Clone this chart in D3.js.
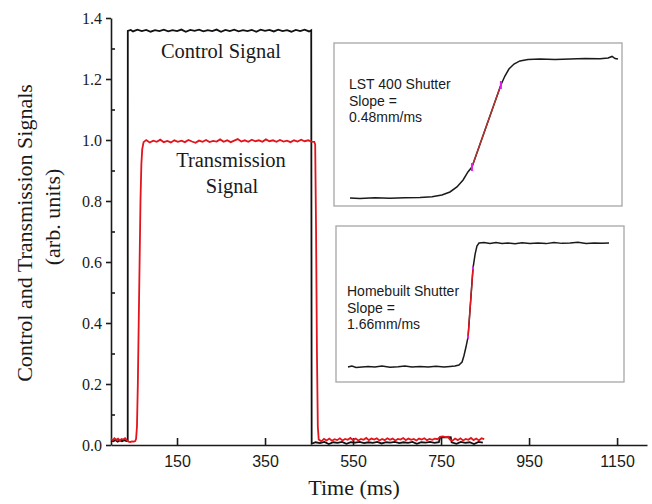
<!DOCTYPE html>
<html>
<head>
<meta charset="utf-8">
<script src="https://cdn.jsdelivr.net/npm/d3@7"></script>
<style>
  body { margin: 0; background: #ffffff; }
  svg { display: block; }
</style>
</head>
<body>
<div id="chart"></div>
<script>
// Main traces: [time (ms), signal (arb. units)]
const controlSignal = [
  [0, 0.015], [5, 0.012], [10, 0.016], [15, 0.011], [20, 0.015], [25, 0.012], [30, 0.016], [35, 0.013], [38, 0.014],
  [38.2, 1.358], [45, 1.361], [50, 1.356], [60, 1.362], [70, 1.357], [80, 1.361], [90, 1.355], [100, 1.36],
  [110, 1.357], [120, 1.362], [130, 1.356], [140, 1.36], [150, 1.357], [160, 1.362], [170, 1.355], [180, 1.361],
  [190, 1.358], [200, 1.362], [210, 1.356], [220, 1.36], [230, 1.357], [240, 1.362], [250, 1.355], [260, 1.361],
  [270, 1.357], [280, 1.362], [290, 1.356], [300, 1.36], [310, 1.357], [320, 1.361], [330, 1.355], [340, 1.362],
  [350, 1.358], [360, 1.361], [370, 1.356], [380, 1.362], [390, 1.357], [400, 1.36], [410, 1.355], [420, 1.361],
  [430, 1.357], [440, 1.362], [450, 1.356], [455, 1.36],
  [456, 0.004], [465, 0.009], [475, 0.006], [485, 0.01], [495, 0.003], [505, 0.009], [515, 0.007], [525, 0.01],
  [535, 0.004], [545, 0.009], [555, 0.008], [565, 0.01], [575, 0.006], [585, 0.009], [595, 0.007], [605, 0.01],
  [615, 0.005], [625, 0.009], [635, 0.008], [645, 0.01], [655, 0.006], [665, 0.009], [675, 0.007], [685, 0.01],
  [695, 0.004], [705, 0.009], [715, 0.008], [725, 0.01], [735, 0.007], [745, 0.009], [748, 0.026], [760, 0.025],
  [772, 0.026], [774, 0.009], [785, 0.004], [795, 0.01], [805, 0.007], [815, 0.009], [825, 0.003], [835, 0.01],
  [845, 0.008]
];

const transmissionSignal = [
  [0, 0.02], [4, 0.016], [8, 0.022], [12, 0.017], [16, 0.021], [20, 0.015], [24, 0.02], [28, 0.018], [32, 0.022],
  [36, 0.016], [40, 0.011], [44, 0.01], [48, 0.012], [52, 0.011], [55, 0.013], [57, 0.02], [59, 0.06], [61, 0.2],
  [63, 0.4], [65, 0.6], [67, 0.8], [69, 0.92], [71, 0.97], [74, 0.993],
  [80, 1.0], [88, 0.992], [96, 0.998], [104, 0.994], [112, 1.001], [120, 0.993], [128, 0.997], [136, 0.992],
  [144, 0.999], [152, 0.994], [160, 0.998], [168, 0.993], [176, 1.0], [184, 0.995], [192, 0.991], [200, 0.998],
  [208, 0.994], [216, 1.0], [224, 0.993], [232, 0.997], [240, 0.995], [248, 1.002], [256, 0.994], [264, 0.999],
  [272, 0.993], [280, 0.998], [288, 1.003], [296, 0.995], [304, 0.999], [312, 0.994], [320, 1.001], [328, 0.996],
  [336, 0.999], [344, 0.994], [352, 1.002], [360, 0.996], [368, 0.999], [376, 0.994], [384, 1.0], [392, 0.995],
  [400, 0.998], [408, 0.993], [416, 0.999], [424, 0.995], [432, 1.001], [440, 0.996], [448, 0.999], [456, 0.995],
  [462, 0.994], [464, 0.985], [466, 0.7], [468, 0.3], [470, 0.06], [472, 0.018],
  [478, 0.012], [484, 0.02], [490, 0.015], [496, 0.021], [502, 0.014], [508, 0.019], [514, 0.016], [520, 0.022],
  [526, 0.015], [532, 0.02], [538, 0.017], [544, 0.023], [550, 0.016], [556, 0.021], [562, 0.015], [568, 0.02],
  [574, 0.017], [580, 0.023], [586, 0.016], [592, 0.021], [598, 0.018], [604, 0.022], [610, 0.015], [616, 0.02],
  [622, 0.016], [628, 0.022], [634, 0.017], [640, 0.021], [646, 0.015], [652, 0.02], [658, 0.018], [664, 0.023],
  [670, 0.016], [676, 0.021], [682, 0.017], [688, 0.02], [694, 0.015], [700, 0.021], [706, 0.018], [712, 0.022],
  [718, 0.016], [724, 0.02], [730, 0.017], [736, 0.021], [742, 0.019], [748, 0.027], [754, 0.028], [760, 0.026],
  [766, 0.027], [770, 0.018], [776, 0.014], [782, 0.021], [788, 0.016], [794, 0.022], [800, 0.015], [806, 0.02],
  [812, 0.017], [818, 0.023], [824, 0.016], [830, 0.021], [836, 0.015], [842, 0.022], [848, 0.019]
];

const xTicks = [150, 350, 550, 750, 950, 1150];
const yTicks = [0, 0.2, 0.4, 0.6, 0.8, 1.0, 1.2, 1.4];
const yMinorTicks = [0.1, 0.3, 0.5, 0.7, 0.9, 1.1, 1.3];

// Inset traces: [normalised time, normalised opening]
const lstCurve = [
  [0, 0], [0.037, -0.003], [0.093, 0.001], [0.149, -0.002], [0.205, 0.002], [0.261, 0.004], [0.306, 0.009],
  [0.343, 0.021], [0.373, 0.043], [0.399, 0.079], [0.422, 0.129], [0.44, 0.186], [0.455, 0.221], [0.563, 0.807],
  [0.578, 0.871], [0.593, 0.921], [0.612, 0.957], [0.634, 0.979], [0.664, 0.989], [0.709, 0.993], [0.765, 0.989],
  [0.821, 0.993], [0.877, 0.996], [0.933, 0.994], [0.963, 1.0], [0.978, 1.011], [0.989, 0.996], [1.0, 0.993]
];
const lstFit = [[0.455, 0.221], [0.563, 0.807]];
const lstLabel = ["LST 400 Shutter", "Slope =", "0.48mm/ms"];

const homeCurve = [
  [0, 0], [0.015, 0.008], [0.031, -0.004], [0.054, 0], [0.077, 0.004], [0.103, 0], [0.13, 0.008], [0.161, -0.002],
  [0.192, 0.002], [0.218, 0.008], [0.245, 0], [0.276, 0.004], [0.307, 0], [0.337, 0.006], [0.368, 0], [0.391, 0.004],
  [0.41, 0.008], [0.425, 0.016], [0.437, 0.04], [0.444, 0.089], [0.452, 0.161], [0.46, 0.242], [0.479, 0.798],
  [0.487, 0.911], [0.494, 0.976], [0.502, 1.0], [0.521, 1.004], [0.544, 0.996], [0.567, 1.004], [0.59, 0.996],
  [0.613, 1.0], [0.64, 0.994], [0.667, 1.002], [0.697, 0.996], [0.728, 1.0], [0.759, 0.995], [0.789, 1.003],
  [0.82, 0.997], [0.851, 1.0], [0.881, 1.006], [0.912, 0.996], [0.943, 1.0], [0.973, 0.997], [1.0, 1.0]
];
const homeFit = [[0.46, 0.242], [0.479, 0.798]];
const homeLabel = ["Homebuilt Shutter", "Slope =", "1.66mm/ms"];

const serif = "'Liberation Serif', 'Times New Roman', serif";
const sans = "'Liberation Sans', Arial, sans-serif";

function renderChart() {
  const width = 652;
  const height = 504;

  const svg = d3
    .select("#chart")
    .append("svg")
    .attr("width", width)
    .attr("height", height);

  const x = d3.scaleLinear().domain([0, 1218]).range([111, 647]);
  const y = d3.scaleLinear().domain([0, 1.4]).range([445, 18]);

  // Bottom axis, ticks pointing inward
  const xAxis = svg
    .append("g")
    .attr("transform", `translate(0,${y(0)})`)
    .call(
      d3
        .axisBottom(x)
        .tickValues(xTicks)
        .tickSizeInner(-7)
        .tickSizeOuter(0)
        .tickPadding(11)
        .tickFormat(d3.format("d"))
    );
  xAxis.selectAll("text").style("font-family", sans).style("font-size", "16px").attr("fill", "#1a1a1a");

  // Left axis, major ticks outward and minor ticks inward
  const yAxis = svg
    .append("g")
    .attr("transform", `translate(${x(0)},0)`)
    .call(
      d3.axisLeft(y).tickValues(yTicks).tickSize(5).tickSizeOuter(0).tickPadding(4).tickFormat(d3.format(".1f"))
    );
  yAxis.selectAll("text").style("font-family", serif).style("font-size", "16px").attr("fill", "#1a1a1a");

  svg
    .append("g")
    .attr("transform", `translate(${x(0)},0)`)
    .call(d3.axisLeft(y).tickValues(yMinorTicks).tickSize(-4).tickFormat(""))
    .call((g) => g.select(".domain").remove());

  svg.selectAll(".domain, .tick line").attr("stroke", "#1a1a1a").attr("stroke-width", 1.6);

  const line = d3
    .line()
    .x((d) => x(d[0]))
    .y((d) => y(d[1]));

  svg
    .append("path")
    .datum(controlSignal)
    .attr("fill", "none")
    .attr("stroke", "#111111")
    .attr("stroke-width", 1.8)
    .attr("d", line);

  svg
    .append("path")
    .datum(transmissionSignal)
    .attr("fill", "none")
    .attr("stroke", "#e3141c")
    .attr("stroke-width", 1.8)
    .attr("d", line);

  // Trace annotations
  svg
    .append("text")
    .attr("x", 221)
    .attr("y", 58)
    .attr("text-anchor", "middle")
    .style("font-family", serif)
    .style("font-size", "20.5px")
    .attr("fill", "#1a1a1a")
    .text("Control Signal");

  svg
    .append("text")
    .attr("x", 231)
    .attr("y", 167)
    .attr("text-anchor", "middle")
    .style("font-family", serif)
    .style("font-size", "20.5px")
    .attr("fill", "#1a1a1a")
    .text("Transmission");

  svg
    .append("text")
    .attr("x", 232)
    .attr("y", 193)
    .attr("text-anchor", "middle")
    .style("font-family", serif)
    .style("font-size", "20.5px")
    .attr("fill", "#1a1a1a")
    .text("Signal");

  // Axis titles
  svg
    .append("text")
    .attr("transform", "translate(32,233) rotate(-90)")
    .attr("text-anchor", "middle")
    .style("font-family", serif)
    .style("font-size", "22px")
    .attr("fill", "#1a1a1a")
    .text("Control and Transmission Signals");

  svg
    .append("text")
    .attr("transform", "translate(60,217) rotate(-90)")
    .attr("text-anchor", "middle")
    .style("font-family", serif)
    .style("font-size", "22px")
    .attr("fill", "#1a1a1a")
    .text("(arb. units)");

  svg
    .append("text")
    .attr("x", 354)
    .attr("y", 495)
    .attr("text-anchor", "middle")
    .style("font-family", serif)
    .style("font-size", "22px")
    .attr("fill", "#1a1a1a")
    .text("Time (ms)");

  renderInset(svg, {
    frame: [334, 43, 288, 163],
    xRange: [350, 618],
    yRange: [198, 58],
    curve: lstCurve,
    fit: lstFit,
    fitColor: "#b8322e",
    markSize: 4,
    label: lstLabel,
    labelX: 349,
    labelY: [89, 106, 122],
  });

  renderInset(svg, {
    frame: [336, 226, 288, 156],
    xRange: [348, 609],
    yRange: [367, 243],
    curve: homeCurve,
    fit: homeFit,
    fitColor: "#e3141c",
    markSize: 1.5,
    label: homeLabel,
    labelX: 347,
    labelY: [296, 313, 329],
  });
}

function renderInset(svg, opts) {
  const g = svg.append("g");
  const [fx, fy, fw, fh] = opts.frame;

  g.append("rect")
    .attr("x", fx)
    .attr("y", fy)
    .attr("width", fw)
    .attr("height", fh)
    .attr("fill", "#ffffff")
    .attr("stroke", "#a6a6a6")
    .attr("stroke-width", 1.3);

  const ix = d3.scaleLinear().domain([0, 1]).range(opts.xRange);
  const iy = d3.scaleLinear().domain([0, 1]).range(opts.yRange);

  const line = d3
    .line()
    .x((d) => ix(d[0]))
    .y((d) => iy(d[1]));

  g.append("path")
    .datum(opts.curve)
    .attr("fill", "none")
    .attr("stroke", "#1a1a1a")
    .attr("stroke-width", 1.5)
    .attr("d", line);

  g.append("path")
    .datum(opts.fit)
    .attr("fill", "none")
    .attr("stroke", opts.fitColor)
    .attr("stroke-width", 1.4)
    .attr("d", line);

  // Magenta end markers of the fitted range
  g.selectAll("line.mark")
    .data(opts.fit)
    .enter()
    .append("line")
    .attr("class", "mark")
    .attr("x1", (d) => ix(d[0]))
    .attr("x2", (d) => ix(d[0]))
    .attr("y1", (d) => iy(d[1]) - opts.markSize)
    .attr("y2", (d) => iy(d[1]) + opts.markSize)
    .attr("stroke", "#e020e8")
    .attr("stroke-width", 2);

  g.selectAll("text.label")
    .data(opts.label)
    .enter()
    .append("text")
    .attr("class", "label")
    .attr("x", opts.labelX)
    .attr("y", (d, i) => opts.labelY[i])
    .style("font-family", sans)
    .style("font-size", "14px")
    .attr("fill", "#1a1a1a")
    .text((d) => d);
}

renderChart();
</script>
</body>
</html>
